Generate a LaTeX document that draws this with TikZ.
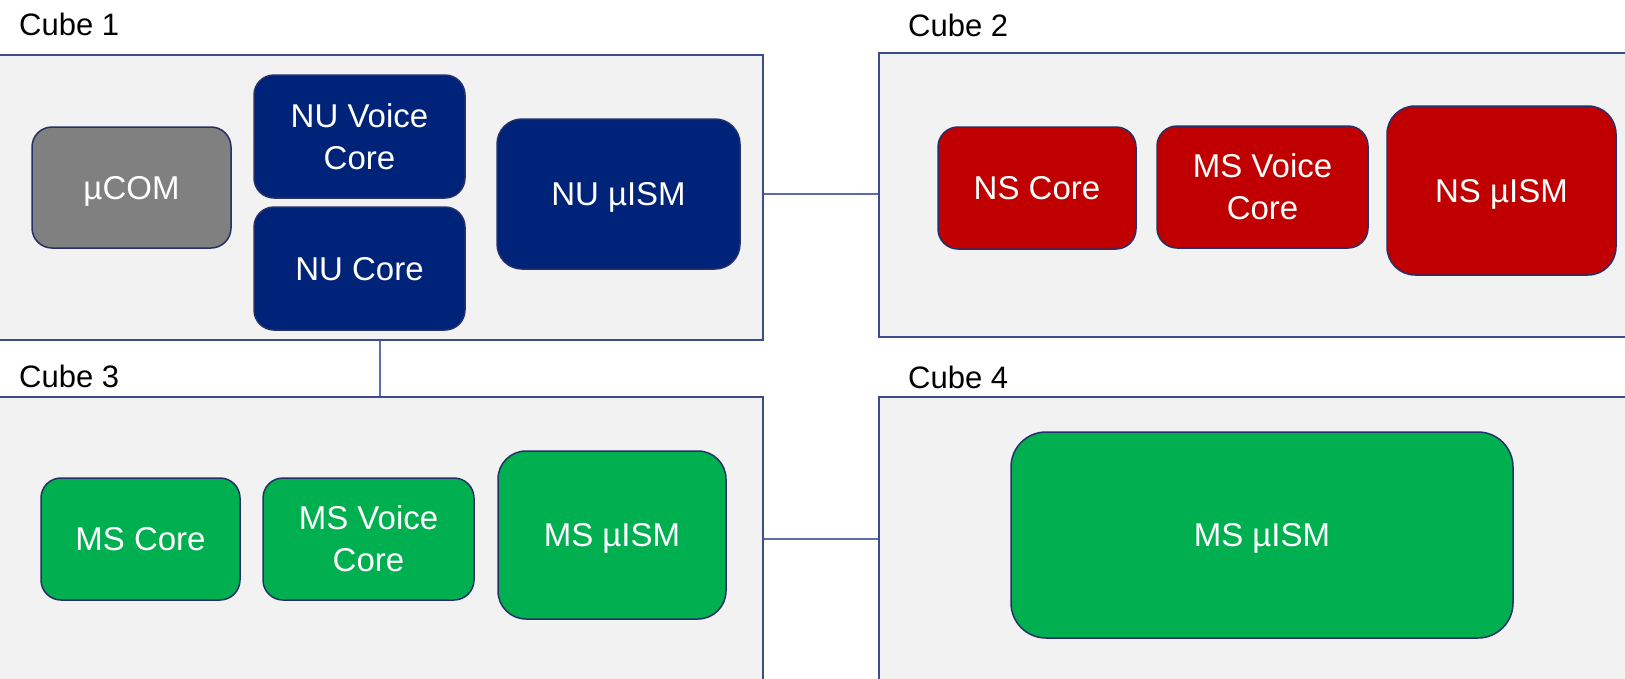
\documentclass[tikz,border=0pt]{standalone}
\usepackage{fontspec}
\setmainfont{Liberation Sans}
\usepackage{xcolor}
\usepackage{tikz}
\usetikzlibrary{positioning,calc}
\definecolor{nublue}{RGB}{0,35,122}
\definecolor{nsred}{RGB}{192,0,0}
\definecolor{msgreen}{RGB}{0,176,80}
\definecolor{ucomgray}{RGB}{128,128,128}
\definecolor{cubefill}{RGB}{242,242,242}
\definecolor{cubeline}{RGB}{62,76,140}
\definecolor{linkline}{RGB}{92,108,172}
\definecolor{blkline}{RGB}{38,48,104}

\begin{document}
\begin{tikzpicture}[
    x=1pt, y=-1pt,
    cube/.style={draw=cubeline, fill=cubefill, line width=2pt, inner sep=0pt},
    cubelabel/.style={anchor=base west, inner sep=0pt, font=\fontsize{31}{36}\selectfont},
    blk/.style={draw=blkline, line width=1.5pt, rounded corners=20pt, text=white, align=center, inner sep=0pt,
        text depth=0pt, font=\fontsize{33}{42}\selectfont},
    ucom/.style={blk, fill=ucomgray},
    nu/.style={blk, fill=nublue},
    ns/.style={blk, fill=nsred},
    ms/.style={blk, fill=msgreen},
    link/.style={draw=linkline, line width=2pt}
]
\useasboundingbox (0,0) rectangle (1625,678);

% cubes
\node[cube, minimum width=766pt, minimum height=285pt] (c1) at (380,197.5) {};
\node[cube, minimum width=753pt, minimum height=284pt] (c2) at (1255.5,195) {};
\node[cube, minimum width=766pt, minimum height=288pt] (c3) at (380,541) {};
\node[cube, minimum width=753pt, minimum height=288pt] (c4) at (1255.5,541) {};

\node[cubelabel] (l1) at (19,35) {Cube 1};
\node[cubelabel] (l2) at (908,36) {Cube 2};
\node[cubelabel] (l3) at (19,387) {Cube 3};
\node[cubelabel] (l4) at (908,388) {Cube 4};

% cube 1
\node[ucom, minimum width=199pt, minimum height=121pt] (ucom) at (131.5,187.5) {µCOM};
\node[nu, minimum width=211pt, minimum height=123pt] (nuvoice) at (359.5,136.5) {NU Voice\\Core};
\node[nu, minimum width=211pt, minimum height=123pt] (nucore) at (359.5,268.5) {NU Core};
\node[nu, minimum width=243pt, minimum height=150pt, rounded corners=25pt] (nuism) at (618.5,194) {NU µISM};

% cube 2
\node[ns, minimum width=198pt, minimum height=122pt] (nscore) at (1037,188) {NS Core};
\node[ns, minimum width=211pt, minimum height=122pt] (msvoicetwo) at (1262.5,187) {MS Voice\\Core};
\node[ns, minimum width=229pt, minimum height=169pt, rounded corners=28pt] (nsism) at (1501.5,190.5) {NS µISM};

% cube 3
\node[ms, minimum width=199pt, minimum height=122pt] (mscore) at (140.5,539) {MS Core};
\node[ms, minimum width=211pt, minimum height=122pt] (msvoicethree) at (368.5,539) {MS Voice\\Core};
\node[ms, minimum width=228pt, minimum height=168pt, rounded corners=28pt] (msismthree) at (612,535) {MS µISM};

% cube 4
\node[ms, minimum width=502pt, minimum height=206pt, rounded corners=35pt] (msismfour) at (1262,535) {MS µISM};

% links between cubes
\draw[link] (c1.east |- nuism.east) -- (c2.west |- nuism.east);
\draw[link] (c1.south) -- (c1.south |- c3.north);
\draw[link] (c3.east |- msvoicethree.east) -- (c4.west |- msvoicethree.east);
\end{tikzpicture}
\end{document}
